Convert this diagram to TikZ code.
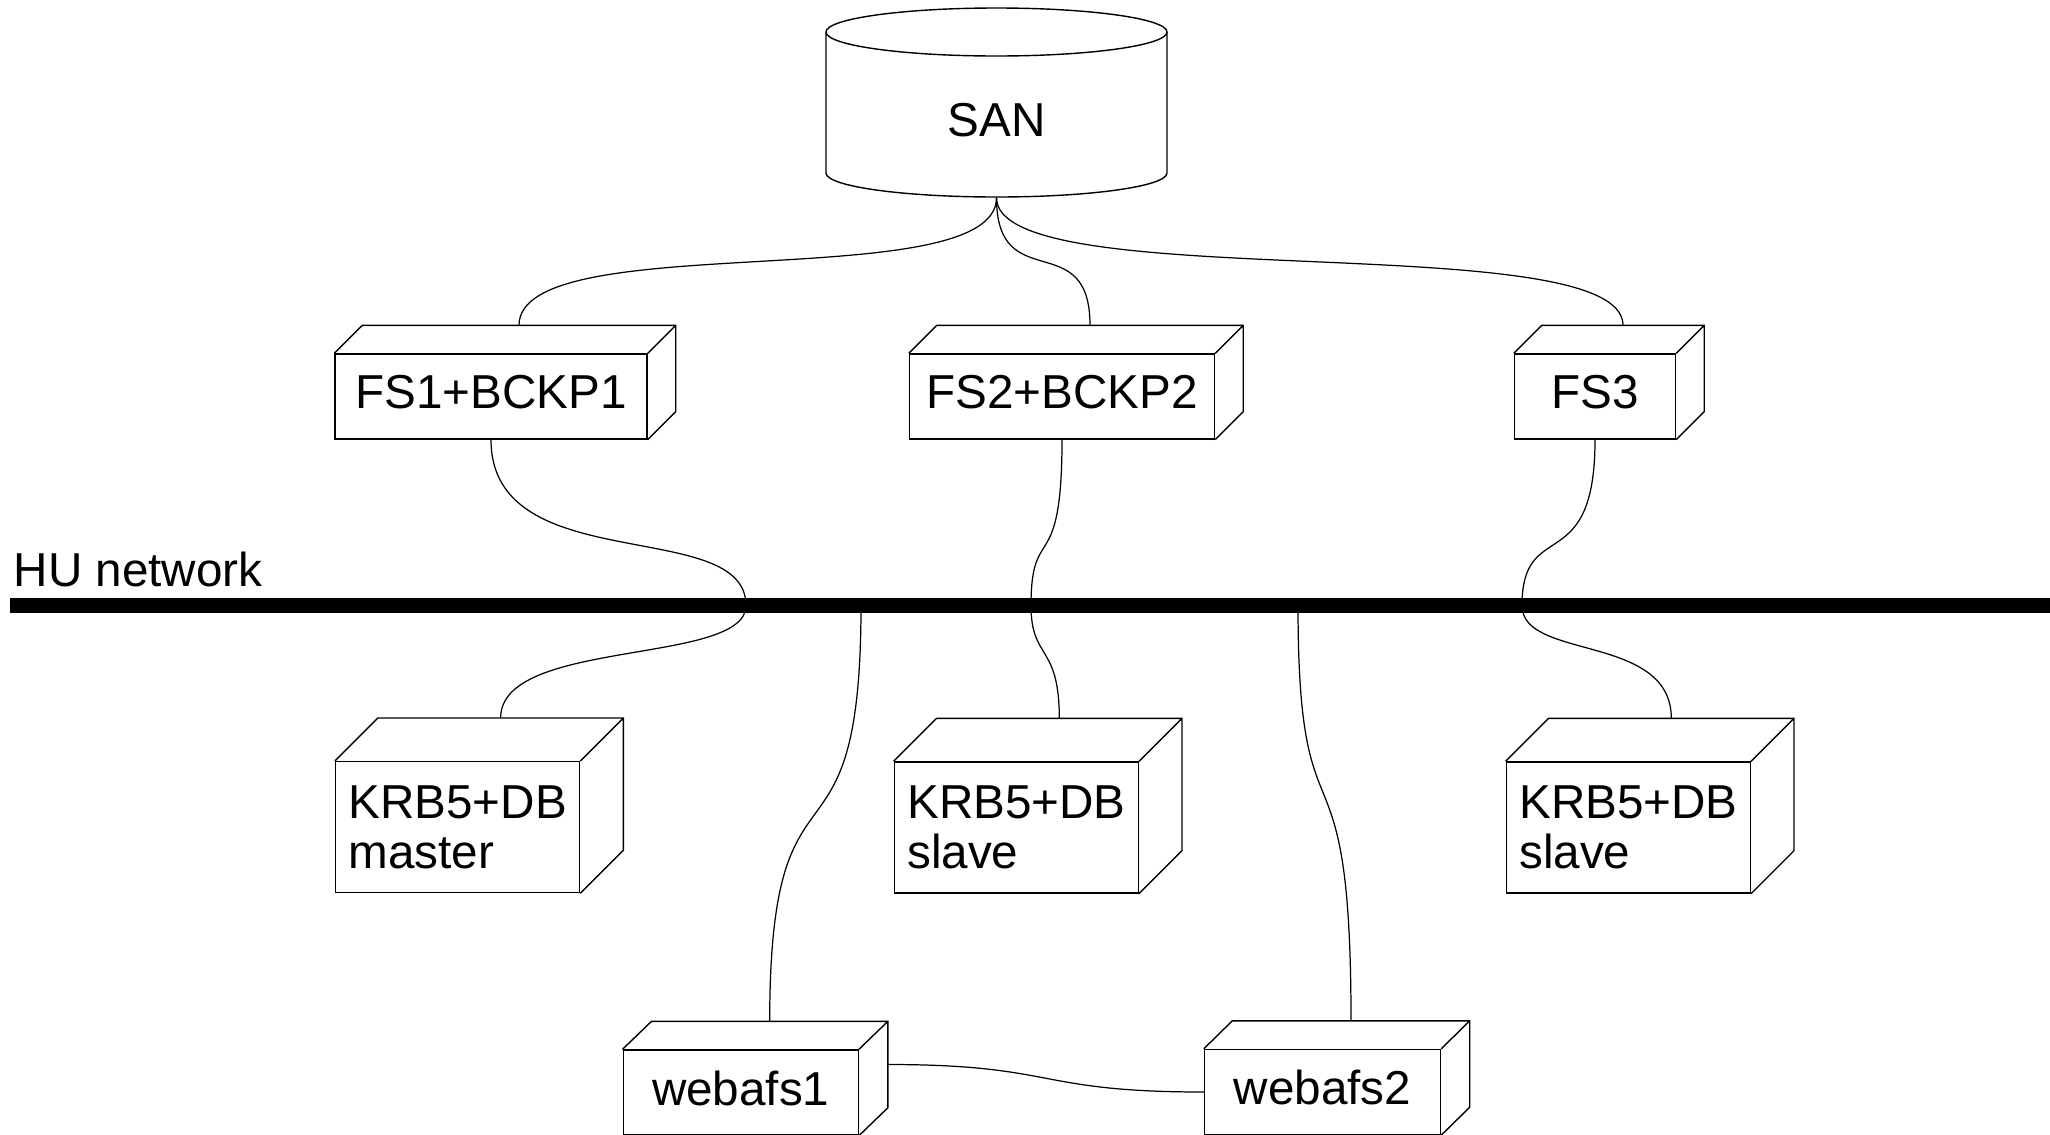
\documentclass[tikz,border=0pt]{standalone}
\usepackage{fontspec}
\setmainfont{Liberation Sans}
\usepackage{tikz}
\usetikzlibrary{positioning}

% top and side faces of a 3d node box, plus glue points on its back face
\newcommand{\boxsides}[3]{%
  \draw (#1.north west) -- ++(#2,#3) -- ([shift={(#2,#3)}]#1.north east)
        -- ([shift={(#2,#3)}]#1.south east) -- (#1.south east)
        (#1.north east) -- ++(#2,#3);
  \coordinate (#1-top) at ([shift={(#2,#3)}]#1.north);
  \coordinate (#1-side) at ([shift={(#2,#3)}]#1.east);
}

\begin{document}
\begin{tikzpicture}[
    font=\fontsize{13.55pt}{14.2pt}\selectfont,
    box/.style={draw, fill=white, minimum height=0.85cm, inner sep=0pt, text depth=0.09cm, align=center},
    krb/.style={draw, fill=white, minimum height=1.31cm, text width=2.18cm, inner xsep=0.13cm, inner ysep=0pt, align=left},
    cable/.style={line width=0.35pt},
    network/.style={line width=0.145cm}
]
    \useasboundingbox (0,0) rectangle (20.5,-11.34);

    % SAN storage
    \draw (8.26,-0.32) -- (8.26,-1.73) arc[start angle=180, end angle=360, x radius=1.705cm, y radius=0.24cm] -- (11.67,-0.32);
    \draw (9.965,-0.32) ellipse[x radius=1.705cm, y radius=0.24cm];
    \node[minimum width=3.41cm, minimum height=1.54cm] (san) at (9.965,-1.20) {SAN};

    % Nodes - file servers
    \node[box, minimum width=3.12cm] (fs1) at (4.91,-3.965) {FS1+BCKP1};
    \node[box, minimum width=3.05cm] (fs2) at (10.62,-3.965) {FS2+BCKP2};
    \node[box, minimum width=1.61cm] (fs3) at (15.95,-3.965) {FS3};
    \boxsides{fs1}{0.28}{0.28}
    \boxsides{fs2}{0.28}{0.28}
    \boxsides{fs3}{0.28}{0.28}

    % Network
    \node[anchor=base west, inner sep=0pt] (hunet) at (0.13,-5.867) {HU network};
    \coordinate (hu1) at (7.46,-6.055);
    \coordinate (hu2) at (10.31,-6.055);
    \coordinate (hu3) at (15.22,-6.055);
    \coordinate (hu4) at (8.61,-6.055);
    \coordinate (hu5) at (12.98,-6.055);

    % Nodes - kerberos servers
    \node[krb] (krbm) at (4.576,-8.272) {KRB5+DB\\master};
    \node[krb] (krbs1) at (10.163,-8.275) {KRB5+DB\\slave};
    \node[krb] (krbs2) at (16.283,-8.275) {KRB5+DB\\slave};
    \boxsides{krbm}{0.43}{0.43}
    \boxsides{krbs1}{0.43}{0.43}
    \boxsides{krbs2}{0.43}{0.43}

    % Nodes - web servers
    \node[box, minimum width=2.35cm] (web1) at (7.407,-10.925) {webafs1};
    \node[box, minimum width=2.36cm] (web2) at (13.225,-10.92) {webafs2};
    \boxsides{web1}{0.29}{0.28}
    \boxsides{web2}{0.285}{0.28}

    % Cables
    \draw[cable] (san.south) .. controls +(0,-1.0) and +(0,1.0) .. (fs1-top);
    \draw[cable] (san.south) .. controls +(0,-1.0) and +(0,1.0) .. (fs2-top);
    \draw[cable] (san.south) .. controls +(0,-1.0) and +(0,1.0) .. (fs3-top);
    \draw[cable] (fs1.south) .. controls +(0,-1.4) and +(0,0.9) .. (hu1);
    \draw[cable] (fs2.south) .. controls +(0,-1.4) and +(0,0.85) .. (hu2);
    \draw[cable] (fs3.south) .. controls +(0,-1.4) and +(0,0.9) .. (hu3);
    \draw[cable] (hu1) .. controls +(0,-0.6) and +(0,0.8) .. (krbm-top);
    \draw[cable] (hu2) .. controls +(0,-0.55) and +(0,0.75) .. (krbs1-top);
    \draw[cable] (hu3) .. controls +(0,-0.55) and +(0,0.85) .. (krbs2-top);
    \draw[cable] (hu4) .. controls +(0,-2.9) and +(0,2.9) .. (web1-top);
    \draw[cable] (hu5) .. controls +(0,-2.6) and +(0,3.05) .. (web2-top);
    \draw[cable] (web1-side) .. controls +(1.7,0) and +(-1.7,0) .. (web2.west);

    \draw[network] (0.10,-6.055) -- (20.5,-6.055);
\end{tikzpicture}
\end{document}
